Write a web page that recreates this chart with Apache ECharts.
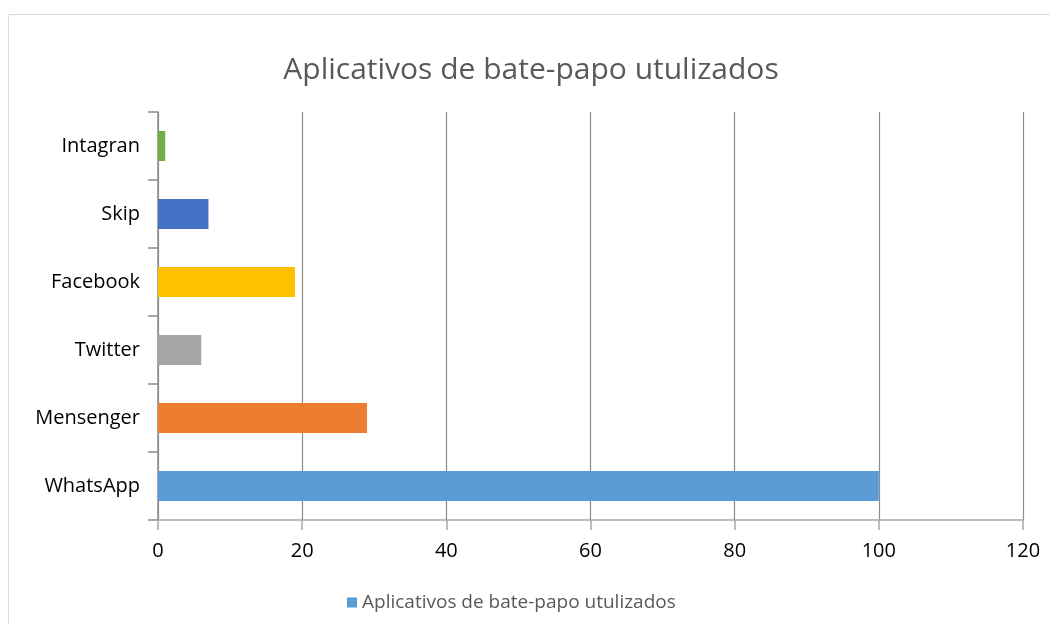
<!DOCTYPE html>
<html><head><meta charset="utf-8">
<script src="https://cdn.jsdelivr.net/npm/echarts@6/dist/echarts.min.js"></script>
<style>html,body{margin:0;padding:0;background:#fff}#c{width:1050px;height:624px}</style>
</head><body><div id="c"></div>
<script>
const titleText = 'Aplicativos de bate-papo utulizados';
const seriesName = 'Aplicativos de bate-papo utulizados';
const categories = ['WhatsApp', 'Mensenger', 'Twitter', 'Facebook', 'Skip', 'Intagran'];
const values = [100, 29, 6, 19, 7, 1];
const barColors = ['#5B9BD5', '#ED7D31', '#A5A5A5', '#FFC000', '#4472C4', '#70AD47'];
const xTicks = [0, 20, 40, 60, 80, 100, 120];

const chart = echarts.init(document.getElementById('c'));
const font = '"Open Sans", Lato, sans-serif';
chart.setOption({
  animation: false,
  textStyle: { fontFamily: font },
  graphic: [{
    type: 'rect', shape: { x: 8.5, y: 14.5, width: 1100, height: 700 },
    style: { fill: 'none', stroke: '#d9d9d9', lineWidth: 1 }, silent: true
  }],
  title: {
    text: titleText, left: 526, top: 50, textAlign: 'center',
    textStyle: { fontFamily: font, fontSize: 30, fontWeight: 'normal', color: '#595959' }
  },
  legend: {
    data: [seriesName], left: 342, top: 588, itemWidth: 10, itemHeight: 10, itemGap: 10,
    icon: 'rect',
    textStyle: { fontFamily: font, fontSize: 19, color: '#595959' }
  },
  grid: { left: 158, right: 27, top: 112, bottom: 104, containLabel: false },
  xAxis: {
    type: 'value', min: xTicks[0], max: xTicks[xTicks.length - 1], interval: 20,
    axisLine: { show: true, lineStyle: { color: '#a6a6a6', width: 1.5 } },
    axisTick: { show: true, length: 10, lineStyle: { color: '#a6a6a6', width: 1.5 } },
    axisLabel: { color: '#000', fontSize: 20, margin: 21, fontFamily: font },
    splitLine: { show: true, lineStyle: { color: '#8c8c8c', width: 1.2 } }
  },
  yAxis: {
    type: 'category', data: categories,
    axisLine: { show: true, lineStyle: { color: '#8c8c8c', width: 1.5 } },
    axisTick: { show: true, length: 10, lineStyle: { color: '#8c8c8c', width: 1.5 } },
    axisLabel: { color: '#000', fontSize: 20, margin: 18, fontFamily: font }
  },
  series: [{
    name: seriesName, type: 'bar', barWidth: 30,
    itemStyle: { color: barColors[0] },
    data: values.map((v, i) => ({ value: v, itemStyle: { color: barColors[i] } }))
  }]
});
</script></body></html>
